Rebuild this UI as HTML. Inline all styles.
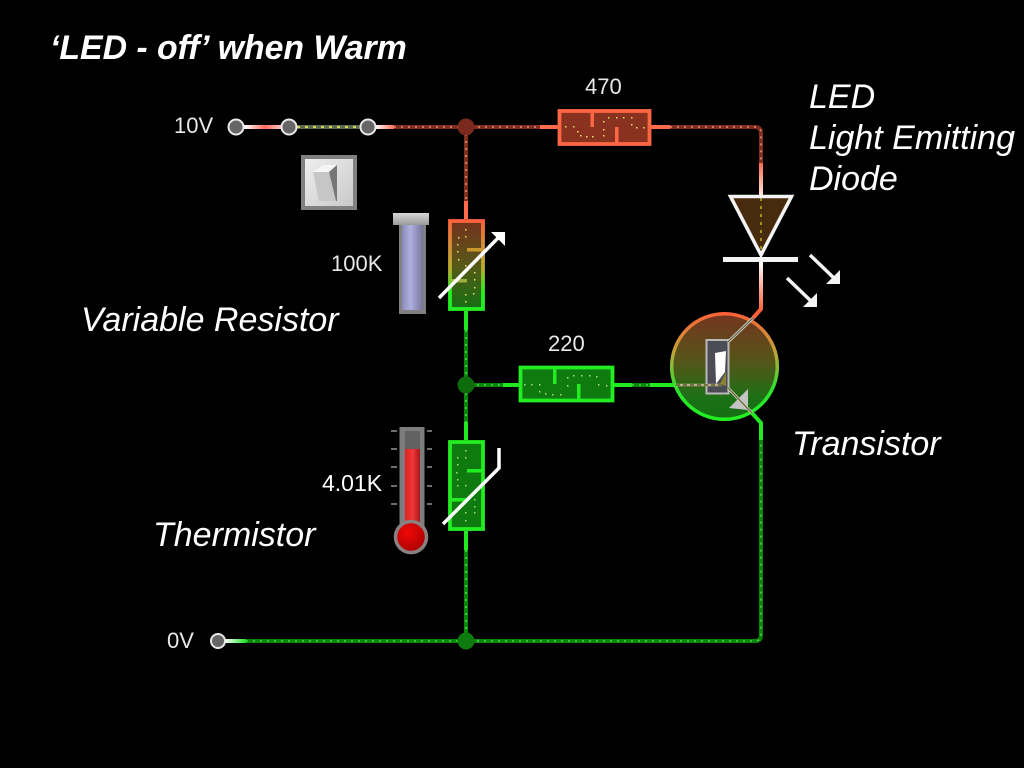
<!DOCTYPE html>
<html><head><meta charset="utf-8">
<style>
html,body{margin:0;padding:0;background:#000;width:1024px;height:768px;overflow:hidden}
svg{display:block}
text{font-family:"Liberation Sans",Arial,sans-serif;fill:#fff}
.lab{font-size:22px;fill:#e8e8e8}
.it{font-size:34px;font-style:italic}
.wd{fill:none;stroke:#0a860a;stroke-width:4}
.wdot{fill:none;stroke:#48d848;stroke-width:1.6;stroke-dasharray:2 5}
.rd{fill:none;stroke:#822c1e;stroke-width:4}
.rdot{fill:none;stroke:#dc9078;stroke-width:1.6;stroke-dasharray:2 5}
.yd{fill:#e8e070}
</style></head><body>
<svg width="1024" height="768" viewBox="0 0 1024 768" xmlns="http://www.w3.org/2000/svg">
<defs>
<linearGradient id="vr" gradientUnits="userSpaceOnUse" x1="0" y1="219" x2="0" y2="311">
<stop offset="0" stop-color="#ff5f3c"/><stop offset=".25" stop-color="#d98a3a"/><stop offset=".55" stop-color="#b5b030"/><stop offset=".8" stop-color="#22f022"/><stop offset="1" stop-color="#22f022"/></linearGradient>
<linearGradient id="vrf" gradientUnits="userSpaceOnUse" x1="0" y1="219" x2="0" y2="311">
<stop offset="0" stop-color="#75301e"/><stop offset=".5" stop-color="#585818"/><stop offset="1" stop-color="#127012"/></linearGradient>
<linearGradient id="tf" gradientUnits="userSpaceOnUse" x1="0" y1="312" x2="0" y2="420">
<stop offset="0" stop-color="#763420"/><stop offset=".45" stop-color="#565418"/><stop offset=".8" stop-color="#1c7016"/><stop offset="1" stop-color="#127012"/></linearGradient>
<linearGradient id="ts" gradientUnits="userSpaceOnUse" x1="0" y1="312" x2="0" y2="420">
<stop offset="0" stop-color="#ff6038"/><stop offset=".4" stop-color="#b5a838"/><stop offset=".7" stop-color="#30e030"/><stop offset="1" stop-color="#22f022"/></linearGradient>
<linearGradient id="slid" x1="0" x2="1" y1="0" y2="0">
<stop offset="0" stop-color="#8a8ab8"/><stop offset=".4" stop-color="#b0b0e0"/><stop offset="1" stop-color="#74749c"/></linearGradient>
<linearGradient id="cap" x1="0" x2="0" y1="0" y2="1"><stop offset="0" stop-color="#d8d8d8"/><stop offset="1" stop-color="#9a9a9a"/></linearGradient>
<linearGradient id="sw" x1="0" x2="1" y1="0" y2="1"><stop offset="0" stop-color="#f0f0f0"/><stop offset="1" stop-color="#c8c8c8"/></linearGradient>
<linearGradient id="rod" x1="0" x2="1" y1="0" y2="0"><stop offset="0" stop-color="#e02020"/><stop offset=".5" stop-color="#f03838"/><stop offset="1" stop-color="#a81818"/></linearGradient>
<radialGradient id="bulb" cx=".4" cy=".35" r=".7"><stop offset="0" stop-color="#f00808"/><stop offset="1" stop-color="#a80000"/></radialGradient>
<linearGradient id="t1" gradientUnits="userSpaceOnUse" x1="245" x2="285" y1="0" y2="0"><stop offset="0" stop-color="#fff"/><stop offset=".5" stop-color="#ff6a5a"/><stop offset="1" stop-color="#ffdcd4"/></linearGradient>
<linearGradient id="t2" gradientUnits="userSpaceOnUse" x1="375" x2="395" y1="0" y2="0"><stop offset="0" stop-color="#fff"/><stop offset="1" stop-color="#ff6a4a"/></linearGradient>
<linearGradient id="t3" gradientUnits="userSpaceOnUse" x1="225" x2="246" y1="0" y2="0"><stop offset="0" stop-color="#fff"/><stop offset="1" stop-color="#22e022"/></linearGradient>
<linearGradient id="ledw" gradientUnits="userSpaceOnUse" x1="0" y1="163" x2="0" y2="196"><stop offset="0" stop-color="#ff6a4a"/><stop offset="1" stop-color="#ffe8e0"/></linearGradient>
<linearGradient id="ledw2" gradientUnits="userSpaceOnUse" x1="0" y1="262" x2="0" y2="310"><stop offset="0" stop-color="#fff"/><stop offset="1" stop-color="#ff6038"/></linearGradient>
</defs>

<rect width="1024" height="768" fill="#000"/>

<!-- text -->
<text x="50" y="59" font-size="33.800" font-weight="bold" font-style="italic">‘LED - off’ when Warm</text>
<text x="809" y="108" class="it">LED</text>
<text x="809" y="149" class="it">Light Emitting</text>
<text x="809" y="190" class="it">Diode</text>
<text x="81" y="331" class="it">Variable Resistor</text>
<text x="792" y="455" class="it">Transistor</text>
<text x="153" y="546" class="it">Thermistor</text>
<text x="174" y="133" class="lab">10V</text>
<text x="167" y="648" class="lab">0V</text>
<text x="331" y="271" class="lab">100K</text>
<text x="322" y="491" font-size="23" fill="#e8e8e8">4.01K</text>
<text x="585" y="94" class="lab">470</text>
<text x="548" y="351" class="lab">220</text>

<!-- top wires -->
<line x1="243" y1="127" x2="283" y2="127" stroke="url(#t1)" stroke-width="4"/>
<line x1="296" y1="127" x2="361" y2="127" stroke="#5a6a50" stroke-width="4"/>
<line x1="297" y1="127" x2="361" y2="127" stroke="#e4e850" stroke-width="1.8" stroke-dasharray="3 5"/>
<line x1="375" y1="127" x2="394" y2="127" stroke="url(#t2)" stroke-width="4"/>
<path class="rd" d="M394 127H540"/><path class="rdot" d="M394 127H540"/>
<line x1="540" y1="127" x2="558" y2="127" stroke="#ff6a4a" stroke-width="4"/>
<line x1="651" y1="127" x2="670" y2="127" stroke="#ff6a4a" stroke-width="4"/>
<path class="rd" d="M670 127H755Q761 127 761 133V163"/><path class="rdot" d="M670 127H755Q761 127 761 133V163"/>
<line x1="761" y1="163" x2="761" y2="196" stroke="url(#ledw)" stroke-width="4"/>
<path class="rd" d="M466 127V201"/><path class="rdot" d="M466 127V201"/>
<line x1="466" y1="201" x2="466" y2="219" stroke="#ff6a4a" stroke-width="4"/>

<!-- mid wires -->
<line x1="466" y1="311" x2="466" y2="330" stroke="#22e822" stroke-width="4"/>
<path class="wd" d="M466 330V422"/><path class="wdot" d="M466 330V422"/>
<line x1="466" y1="422" x2="466" y2="440" stroke="#22e822" stroke-width="4"/>
<line x1="466" y1="531" x2="466" y2="550" stroke="#22e822" stroke-width="4"/>
<path class="wd" d="M466 550V641"/><path class="wdot" d="M466 550V641"/>
<path class="wd" d="M466 385H503"/><path class="wdot" d="M470 385H503"/>
<line x1="503" y1="385" x2="519" y2="385" stroke="#22e822" stroke-width="4"/>
<line x1="614" y1="385" x2="632" y2="385" stroke="#22e822" stroke-width="4"/>
<path class="wd" d="M632 385H650"/><path class="wdot" d="M632 385H650"/>
<line x1="650" y1="385" x2="675" y2="385" stroke="#22e822" stroke-width="4"/>

<!-- bottom wires -->
<line x1="224" y1="641" x2="246" y2="641" stroke="url(#t3)" stroke-width="4"/>
<path class="wd" d="M246 641H755Q761 641 761 635V440"/>
<path class="wdot" d="M246 641H755Q761 641 761 635V440"/>
<path d="M761 440V423L752 413" fill="none" stroke="#22e822" stroke-width="4"/>

<!-- terminals -->
<g fill="#666" stroke="#e8e8e8" stroke-width="2">
<circle cx="236" cy="127" r="7.500"/><circle cx="289" cy="127" r="7.500"/><circle cx="368" cy="127" r="7.500"/><circle cx="218" cy="641" r="7"/>
</g>
<circle cx="466" cy="127" r="8.500" fill="#7a2a1c"/>
<circle cx="466" cy="385" r="8.500" fill="#0d6d0d"/>
<circle cx="466" cy="641" r="8.500" fill="#0d7a0d"/>

<!-- switch -->
<rect x="303" y="157" width="52" height="51" fill="url(#sw)" stroke="#808080" stroke-width="4"/>
<path d="M313 172L323 165H337L329 172Z" fill="#f6f6f6"/>
<path d="M313 172H329L336 201H319Z" fill="#c6c6c6"/>
<path d="M329 172L337 165V201H336Z" fill="#777"/>

<!-- 470 resistor -->
<rect x="559.500" y="111" width="90" height="33" fill="#88321f" stroke="#ff6644" stroke-width="3.800"/>
<rect x="590.500" y="111" width="3.500" height="16" fill="#ff6644"/>
<rect x="615" y="127" width="3.500" height="16" fill="#ff6644"/>
<g class="yd">
<rect x="565" y="126" width="1.500" height="1.500"/><rect x="573" y="126" width="1.500" height="1.500"/><rect x="577" y="131" width="1.500" height="1.500"/><rect x="580" y="135" width="1.500" height="1.500"/><rect x="586" y="136" width="1.500" height="1.500"/><rect x="592" y="136" width="1.500" height="1.500"/><rect x="603" y="135" width="1.500" height="1.500"/><rect x="603" y="129" width="1.500" height="1.500"/><rect x="603" y="121" width="1.500" height="1.500"/><rect x="608" y="117" width="1.500" height="1.500"/><rect x="616" y="117" width="1.500" height="1.500"/><rect x="623" y="117" width="1.500" height="1.500"/><rect x="631" y="117" width="1.500" height="1.500"/><rect x="631" y="124" width="1.500" height="1.500"/><rect x="636" y="127" width="1.500" height="1.500"/><rect x="643" y="127" width="1.500" height="1.500"/>
</g>

<!-- LED -->
<path d="M730.500 196.500H791.500L761 255Z" fill="#482a0c" stroke="#f4f4f4" stroke-width="3.500"/>
<line x1="761" y1="198" x2="761" y2="252" stroke="#b8b820" stroke-width="1.500" stroke-dasharray="3 5"/>
<rect x="723" y="257" width="75" height="5" fill="#f4f4f4"/>
<path d="M761 262V309L753 318" fill="none" stroke="url(#ledw2)" stroke-width="4"/>
<g fill="none" stroke="#f4f4f4" stroke-width="3.500">
<path d="M810 255L836 280"/><path d="M787 278L813 303"/>
</g>
<path d="M840 284H826L840 270Z" fill="#f4f4f4"/>
<path d="M817 307H803L817 293Z" fill="#f4f4f4"/>

<!-- variable resistor + slider -->
<rect x="399" y="225" width="27" height="89" fill="#808080"/>
<rect x="402" y="225" width="21" height="85" fill="url(#slid)"/>
<rect x="393" y="213" width="36" height="12" fill="url(#cap)"/>
<rect x="450" y="221" width="33" height="88" fill="url(#vrf)" stroke="url(#vr)" stroke-width="3.800"/>
<rect x="467" y="248" width="16" height="3.500" fill="#c8982e"/>
<rect x="451" y="279" width="16" height="3.500" fill="#a0b040"/>
<g class="yd">
<rect x="465" y="229" width="1.500" height="1.500"/><rect x="458" y="237" width="1.500" height="1.500"/><rect x="465" y="236" width="1.500" height="1.500"/><rect x="457" y="244" width="1.500" height="1.500"/><rect x="457" y="251" width="1.500" height="1.500"/><rect x="458" y="259" width="1.500" height="1.500"/><rect x="465" y="265" width="1.500" height="1.500"/><rect x="474" y="272" width="1.500" height="1.500"/><rect x="474" y="279" width="1.500" height="1.500"/><rect x="474" y="287" width="1.500" height="1.500"/><rect x="473" y="293" width="1.500" height="1.500"/><rect x="465" y="294" width="1.500" height="1.500"/><rect x="465" y="301" width="1.500" height="1.500"/>
</g>
<line x1="439" y1="298" x2="498" y2="238" stroke="#fff" stroke-width="3.500"/>
<path d="M505 232L491 232 L505 246Z" fill="#fff"/>

<!-- 220 resistor -->
<rect x="520.500" y="367.500" width="92" height="33" fill="#0f7a0f" stroke="#22ec22" stroke-width="3.800"/>
<rect x="553" y="368" width="3.500" height="16" fill="#22ec22"/>
<rect x="577" y="384" width="3.500" height="16" fill="#22ec22"/>
<g fill="#a8e070">
<rect x="524" y="384" width="1.500" height="1.500"/><rect x="531" y="384" width="1.500" height="1.500"/><rect x="539" y="384" width="1.500" height="1.500"/><rect x="539" y="391" width="1.500" height="1.500"/><rect x="545" y="393" width="1.500" height="1.500"/><rect x="552" y="394" width="1.500" height="1.500"/><rect x="560" y="394" width="1.500" height="1.500"/><rect x="567" y="385" width="1.500" height="1.500"/><rect x="567" y="377" width="1.500" height="1.500"/><rect x="573" y="375" width="1.500" height="1.500"/><rect x="581" y="375" width="1.500" height="1.500"/><rect x="589" y="375" width="1.500" height="1.500"/><rect x="596" y="376" width="1.500" height="1.500"/><rect x="598" y="384" width="1.500" height="1.500"/><rect x="606" y="385" width="1.500" height="1.500"/>
</g>

<!-- transistor -->
<circle cx="724.500" cy="366.500" r="52.800" fill="url(#tf)" stroke="url(#ts)" stroke-width="3.500"/>
<rect x="706.500" y="340" width="22" height="53.500" fill="#4c4c56" stroke="#b8b8b8" stroke-width="2"/>
<path d="M715 353L726 351 L725 372 L716 384Z" fill="#fff"/>
<path d="M720 384L726 372V386Z" fill="#8a8430"/>
<line x1="676" y1="385" x2="722" y2="385" stroke="#b8b090" stroke-width="2.500"/>
<line x1="676" y1="385" x2="722" y2="385" stroke="#4a4a10" stroke-width="1.200" stroke-dasharray="4 3"/>
<path d="M728 342L753 318" stroke="#c8c8b8" stroke-width="3" fill="none"/>
<path d="M728 342L753 318" stroke="#5a5a40" stroke-width="1" fill="none"/>
<path d="M748 389L748 410 L729 408Z" fill="#c4c4c4"/>
<path d="M728 388L752 413" stroke="#c8c8b8" stroke-width="3" fill="none"/>
<path d="M728 388L752 413" stroke="#5a5a20" stroke-width="1" fill="none"/>

<!-- thermistor -->
<rect x="450" y="442" width="33" height="87" fill="#0f7a0f" stroke="#22ec22" stroke-width="3.800"/>
<rect x="467" y="469" width="16" height="3.500" fill="#22ec22"/>
<rect x="451" y="498" width="16" height="3.500" fill="#22ec22"/>
<g fill="#a8e070">
<rect x="465" y="450" width="1.500" height="1.500"/><rect x="457" y="457" width="1.500" height="1.500"/><rect x="465" y="457" width="1.500" height="1.500"/><rect x="457" y="464" width="1.500" height="1.500"/><rect x="456" y="472" width="1.500" height="1.500"/><rect x="457" y="479" width="1.500" height="1.500"/><rect x="457" y="485" width="1.500" height="1.500"/><rect x="465" y="485" width="1.500" height="1.500"/><rect x="474" y="499" width="1.500" height="1.500"/><rect x="474" y="506" width="1.500" height="1.500"/><rect x="474" y="512" width="1.500" height="1.500"/><rect x="465" y="512" width="1.500" height="1.500"/><rect x="465" y="520" width="1.500" height="1.500"/>
</g>
<path d="M443 524L499 468V448" fill="none" stroke="#fff" stroke-width="3.500"/>

<!-- thermometer -->
<rect x="399.500" y="427" width="25" height="100" fill="#7d7d7d"/>
<rect x="405" y="431" width="15" height="18" fill="#626262"/>
<rect x="405" y="449" width="15" height="80" fill="url(#rod)"/>
<circle cx="411" cy="537" r="15.500" fill="url(#bulb)" stroke="#8a8080" stroke-width="3.500"/>
<g stroke="#b0b0b0" stroke-width="1.200">
<path d="M391 431H397M427 431H432M391 449H397M427 449H432M391 467H397M427 467H432M391 486H397M427 486H432M391 504H397M427 504H432"/>
</g>
</svg>
</body></html>
